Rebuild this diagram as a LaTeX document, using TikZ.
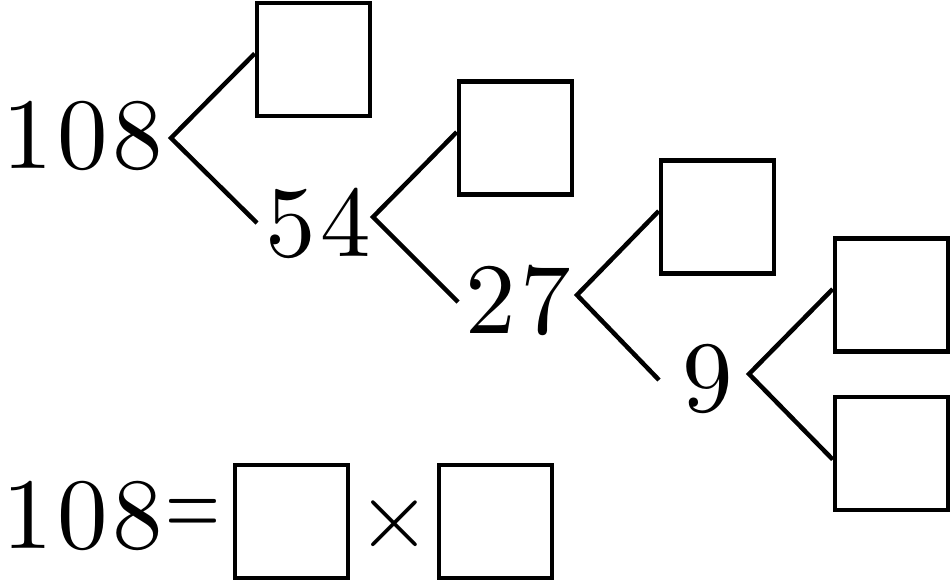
\documentclass[tikz,border=0pt]{standalone}
\usepackage{fontspec}
\newfontfamily\numfont[LetterSpace=4.5]{lmroman10-regular.otf}
\usetikzlibrary{positioning}

\begin{document}
\begin{tikzpicture}[x=1pt,y=-1pt,
  num/.style={inner sep=0pt,anchor=base,font=\numfont\fontsize{101}{101}\selectfont},
  blank/.style={draw,line width=4.5pt,minimum size=113pt,inner sep=0pt},
  branch/.style={line width=4.5pt,line join=miter}]
\useasboundingbox (0,0) rectangle (951,582);
% Numbers of the factor tree
\node[num] (n108) at (83,168) {108};
\node[num] (n54) at (318,256) {54};
\node[num] (n27) at (518,333) {27};
\node[num] (n9) at (708,411) {9};
% Empty boxes
\node[blank] (b1) at (313.5,59.5) {};
\node[blank] (b2) at (515.5,138) {};
\node[blank] (b3) at (717.5,217) {};
\node[blank] (b4) at (891.5,295) {};
\node[blank] (b5) at (891.5,453.5) {};
% Branch points
\coordinate (v1) at (171,138);
\coordinate (v2) at (373,217);
\coordinate (v3) at (577,295);
\coordinate (v4) at (749,374);
\coordinate (e1) at (257,223);
\coordinate (e2) at (458,302);
\coordinate (e3) at (659,380);
% Branches
\draw[branch] ([yshift=6pt]b1.west) -- (v1) -- (e1);
\draw[branch] ([yshift=6pt]b2.west) -- (v2) -- (e2);
\draw[branch] ([yshift=6pt]b3.west) -- (v3) -- (e3);
\draw[branch] ([yshift=6pt]b4.west) -- (v4) -- ([yshift=-6pt]b5.west);
% Equation
\node[num] (m108) at (83,548) {108};
\node[inner sep=0pt,xscale=0.7,font=\numfont\fontsize{101}{101}\selectfont] (eq) at (193.5,517.5) {=};
\node[blank] (b6) at (291.5,521.5) {};
\node[inner sep=0pt,font=\numfont\fontsize{95}{95}\selectfont] (times) at (394,523.5) {×};
\node[blank] (b7) at (495.5,521.5) {};
\end{tikzpicture}
\end{document}
